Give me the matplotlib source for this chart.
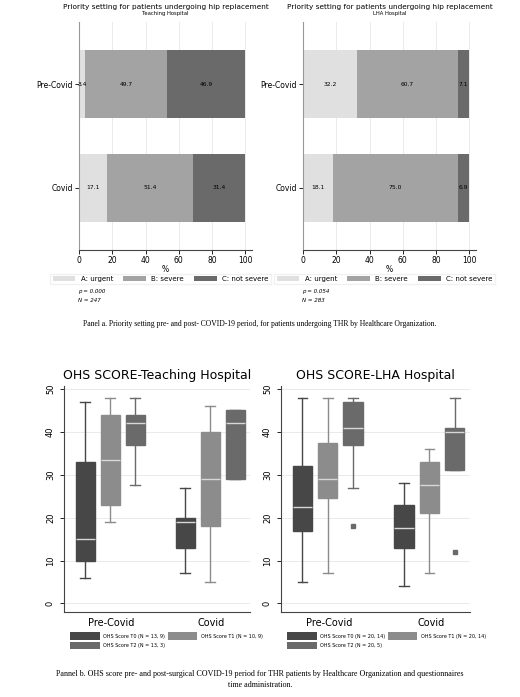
import matplotlib
matplotlib.use("Agg")
import matplotlib.pyplot as plt
from matplotlib.patches import Patch

W, H = 520, 697
fig = plt.figure(figsize=(W/100, H/100), dpi=100)
fig.patch.set_facecolor("white")

def ax_px(l, t, r, b):
    return fig.add_axes([l/W, 1-b/H, (r-l)/W, (b-t)/H])

# ---- data panel a
periods = ["Pre-Covid", "Covid"]
prio_labels = ["A: urgent", "B: severe", "C: not severe"]
teach_prio = {"A: urgent": [3.4, 17.1], "B: severe": [49.7, 51.4], "C: not severe": [46.9, 31.4]}
lha_prio = {"A: urgent": [32.2, 18.1], "B: severe": [60.7, 75.0], "C: not severe": [7.1, 6.9]}
prio_colors = ["#e0e0e0", "#a3a3a3", "#6a6a6a"]
teach_stats = ["p = 0.000", "N = 247"]
lha_stats = ["p = 0.054", "N = 283"]

def bar_panel(ax, data, subtitle, stats, lx):
    ax.set_xlim(-0.0, 104)
    ax.set_ylim(1.6, -0.6)
    left = [0, 0]
    for lab, c in zip(prio_labels, prio_colors):
        vals = data[lab]
        ax.barh([0, 1], vals, left=left, height=0.66, color=c)
        for i, v in enumerate(vals):
            ax.text(left[i] + v/2, i, f"{v:.1f}", ha="center", va="center", fontsize=4.3)
        left = [l + v for l, v in zip(left, vals)]
    ax.set_yticks([0, 1], periods, fontsize=5.5)
    ax.set_xticks(range(0, 101, 20))
    ax.tick_params(labelsize=5.5, length=3, width=0.6, pad=1.5)
    ax.set_xlabel("%", fontsize=5.5, labelpad=0)
    ax.grid(axis="x", color="#e6e6e6", lw=0.6)
    ax.set_axisbelow(True)
    for s in ["top", "right"]:
        ax.spines[s].set_visible(False)
    ax.spines["left"].set_color("#999")
    ax.spines["bottom"].set_color("#444")
    ax.set_title("Priority setting for patients undergoing hip replacement", fontsize=5.3, pad=9)
    ax.text(0.5, 1.025, subtitle, transform=ax.transAxes, ha="center", va="bottom", fontsize=3.8)
    handles = [Patch(facecolor=c, label=l) for l, c in zip(prio_labels, prio_colors)]
    fig.legend(handles=handles, loc="center left", bbox_to_anchor=(lx/W, 1-279/H), ncol=3,
               fontsize=5, frameon=True, fancybox=False, edgecolor="#eee",
               handlelength=3.2, handletextpad=0.8, columnspacing=1.5, borderpad=0.35)
    fig.text((lx+31)/W, 1-292/H, stats[0], fontsize=4, style="italic", va="center")
    fig.text((lx+31)/W, 1-301/H, stats[1], fontsize=4, style="italic", va="center")

a1 = ax_px(79, 22, 252, 250)
bar_panel(a1, teach_prio, "Teaching Hospital", teach_stats, 47)
a2 = ax_px(303, 22, 476, 250)
bar_panel(a2, lha_prio, "LHA Hospital", lha_stats, 271)

fig.text(0.5, 1-324/H, "Panel a. Priority setting pre- and post- COVID-19 period, for patients undergoing THR by Healthcare Organization.",
         ha="center", va="center", fontsize=5.5, family="Liberation Serif")

# ---- data panel b: (whislo, q1, med, q3, whishi, outliers)
teach_box = [
    (6, 10, 15, 33, 47, []), (19, 23, 33.5, 44, 48, []), (27.5, 37, 42, 44, 48, []),
    (7, 13, 19, 20, 27, []), (5, 18, 29, 40, 46, []), (29, 29, 42, 45, 45, []),
]
lha_box = [
    (5, 17, 22.5, 32, 48, []), (7, 24.5, 29, 37.5, 48, []), (27, 37, 41, 47, 48, [18]),
    (4, 13, 17.5, 23, 28, []), (7, 21, 27.5, 33, 36, []), (31, 31, 40, 41, 48, [12]),
]
box_colors = ["#474747", "#8c8c8c", "#6a6a6a"]
teach_leg = ["OHS Score T0 (N = 13, 9)", "OHS Score T1 (N = 10, 9)", "OHS Score T2 (N = 13, 3)"]
lha_leg = ["OHS Score T0 (N = 20, 14)", "OHS Score T1 (N = 20, 14)", "OHS Score T2 (N = 20, 5)"]
positions = [1, 2, 3, 5, 6, 7]

def box_panel(ax, boxes, title, leg, lx):
    stats = [dict(whislo=b[0], q1=b[1], med=b[2], q3=b[3], whishi=b[4], fliers=b[5]) for b in boxes]
    bp = ax.bxp(stats, positions=positions, widths=0.76, patch_artist=True, showfliers=True,
                medianprops=dict(color="#d8d8d8", lw=1),
                whiskerprops=dict(color="#999", lw=1), capprops=dict(color="#999", lw=1),
                flierprops=dict(marker="s", markersize=3.5, markerfacecolor="#6a6a6a", markeredgecolor="#6a6a6a"))
    for i, p in enumerate(bp["boxes"]):
        p.set_facecolor(box_colors[i % 3]); p.set_edgecolor(box_colors[i % 3])
    for i, w in enumerate(bp["whiskers"]):
        w.set_color(box_colors[(i//2) % 3])
    for i, c in enumerate(bp["caps"]):
        c.set_color(box_colors[(i//2) % 3])
    ax.set_xlim(0.16, 7.6)
    ax.set_ylim(-2, 50.7)
    ax.set_xticks([2.05, 6.05], periods, fontsize=7)
    ax.tick_params(axis="x", length=0, pad=4)
    ax.set_yticks(range(0, 51, 10))
    ax.set_yticklabels(range(0, 51, 10), rotation=90, va="center", fontsize=6)
    ax.tick_params(axis="y", length=3, width=0.6, labelsize=6)
    ax.grid(axis="y", color="#e6e6e6", lw=0.6)
    ax.set_axisbelow(True)
    for s in ["top", "right"]:
        ax.spines[s].set_visible(False)
    ax.spines["left"].set_color("#444"); ax.spines["bottom"].set_color("#444")
    ax.set_title(title, fontsize=9, pad=5)
    handles = [Patch(facecolor=c, label=l) for l, c in zip(leg, box_colors)]
    order = [0, 2, 1]
    fig.legend(handles=[handles[i] for i in order], loc="upper left", bbox_to_anchor=(lx/W, 1-628/H), ncol=2,
               fontsize=3.5, frameon=False, handlelength=6, handleheight=2,
               columnspacing=0.5, labelspacing=0.4)

b1 = ax_px(64, 386, 250, 612)
box_panel(b1, teach_box, "OHS SCORE-Teaching Hospital", teach_leg, 66)
b2 = ax_px(281, 386, 470, 612)
box_panel(b2, lha_box, "OHS SCORE-LHA Hospital", lha_leg, 283)

fig.text(0.5, 1-674/H, "Pannel b. OHS score pre- and post-surgical COVID-19 period for THR patients by Healthcare Organization and questionnaires",
         ha="center", va="center", fontsize=5.8, family="Liberation Serif")
fig.text(0.5, 1-685/H, "time administration.", ha="center", va="center", fontsize=5.8, family="Liberation Serif")

fig.savefig("out.png", dpi=100, facecolor="white")
